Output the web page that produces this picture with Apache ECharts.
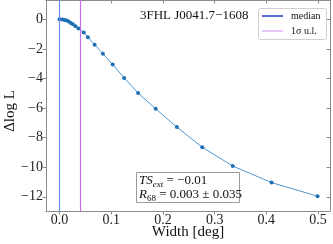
<!DOCTYPE html>
<html>
<head>
<meta charset="utf-8">
<script src="https://cdn.jsdelivr.net/npm/echarts@6/dist/echarts.min.js"></script>
<style>
html,body{margin:0;padding:0;background:#fff;}
#c{width:333px;height:244px;}
</style>
</head>
<body>
<div id="c"></div>
<script>
const widths = [0.0, 0.006, 0.010, 0.014, 0.018, 0.022, 0.026, 0.031, 0.037, 0.047, 0.055, 0.068, 0.084, 0.103, 0.125, 0.152, 0.186, 0.227, 0.276, 0.335, 0.410, 0.499];
const dlogl = [0.0, -0.02, -0.05, -0.09, -0.15, -0.25, -0.34, -0.47, -0.62, -0.89, -1.21, -1.72, -2.33, -3.06, -3.97, -4.98, -6.05, -7.29, -8.65, -9.92, -11.04, -11.96];
const xTicks = [0.0, 0.1, 0.2, 0.3, 0.4, 0.5];
const yTicks = [0, -2, -4, -6, -8, -10, -12];
const medianR68 = 0.003;
const ulR68 = 0.038;
const sourceName = '3FHL J0041.7\u22121608';
const tsExt = '\u22120.01';
const r68Text = '0.003 \u00b1 0.035';

const serif = '"Liberation Serif", "DejaVu Serif", serif';
const axisGray = '#8c8c8c';

const chart = echarts.init(document.getElementById('c'), null, {renderer: 'canvas'});
const xMin = -0.026, xMax = 0.523, yMin = -12.96, yMax = 1.30;

function fmtX(v){ return v.toFixed(1); }
function fmtY(v){ return v < 0 ? '\u2212' + Math.abs(v) : String(v); }

function vline(value, color){
  return {
    type: 'line', xAxisIndex: 0, yAxisIndex: 0, data: [], z: 2,
    color: color,
    markLine: {
      silent: true, symbol: ['none', 'none'], label: {show: false},
      lineStyle: {color: color, width: 1.2, type: 'solid'},
      data: [{xAxis: value}]
    }
  };
}

chart.setOption({
  animation: false,
  grid: {left: 46, right: 3, top: -1, bottom: 33},
  xAxis: [{
    type: 'value', min: xMin, max: xMax, position: 'bottom',
    axisLine: {show: true, onZero: false, lineStyle: {color: axisGray, width: 1}},
    axisTick: {show: true, inside: false, length: 3.5, customValues: xTicks, lineStyle: {color: axisGray}},
    axisLabel: {customValues: xTicks, formatter: fmtX, fontFamily: serif, fontSize: 14, color: '#222', margin: 2},
    splitLine: {show: false}
  }, {
    type: 'value', min: xMin, max: xMax, position: 'top',
    axisLine: {show: true, onZero: false, lineStyle: {color: axisGray, width: 1}},
    axisTick: {show: true, inside: true, length: 3.5, customValues: xTicks, lineStyle: {color: axisGray}},
    axisLabel: {show: false},
    splitLine: {show: false}
  }],
  yAxis: [{
    type: 'value', min: yMin, max: yMax, position: 'left',
    axisLine: {show: true, onZero: false, lineStyle: {color: axisGray, width: 1}},
    axisTick: {show: true, inside: false, length: 3.5, customValues: yTicks, lineStyle: {color: axisGray}},
    axisLabel: {customValues: yTicks, formatter: fmtY, fontFamily: serif, fontSize: 14, color: '#222', margin: 3},
    splitLine: {show: false}
  }, {
    type: 'value', min: yMin, max: yMax, position: 'right',
    axisLine: {show: true, onZero: false, lineStyle: {color: axisGray, width: 1}},
    axisTick: {show: true, inside: true, length: 3.5, customValues: yTicks, lineStyle: {color: axisGray}},
    axisLabel: {show: false},
    splitLine: {show: false}
  }],
  series: [
    vline(medianR68, '#6a8cf2'),
    vline(ulR68, '#c46ff0'),
    {
      type: 'line',
      xAxisIndex: 0, yAxisIndex: 0,
      data: widths.map((w, i) => [w, dlogl[i]]),
      symbol: 'circle', symbolSize: 4,
      itemStyle: {color: '#1f6fb4'},
      lineStyle: {color: '#4f95cf', width: 1},
      z: 3
    }
  ],
  graphic: [
    {type: 'text', left: 140, top: 9, style: {text: sourceName, font: '13px ' + serif, fill: '#111'}, z: 10},
    {type: 'rect', shape: {x: 258.5, y: 8.5, width: 68, height: 31, r: 2}, style: {fill: '#fff', stroke: '#d0d0d0', lineWidth: 1}, z: 10},
    {type: 'line', shape: {x1: 262, y1: 16, x2: 283, y2: 16}, style: {stroke: '#1a3cc4', lineWidth: 1.5}, z: 11},
    {type: 'line', shape: {x1: 262, y1: 31, x2: 283, y2: 31}, style: {stroke: '#e6c6f6', lineWidth: 2}, z: 11},
    {type: 'text', x: 291, y: 16, style: {text: 'median', font: '10px ' + serif, fill: '#111', verticalAlign: 'middle'}, z: 11},
    {type: 'text', x: 291, y: 31, style: {text: '1\u03c3 u.l.', font: '10px ' + serif, fill: '#111', verticalAlign: 'middle'}, z: 11},
    {type: 'rect', shape: {x: 136.5, y: 172.5, width: 103, height: 30}, style: {fill: '#fff', stroke: '#9a9a9a', lineWidth: 1}, z: 10},
    {type: 'text', x: 139, y: 174, z: 11, style: {
      text: '{i|TS}{s|ext}{n| = ' + tsExt + '}\n{i|R}{t|68}{n| = ' + r68Text + '}',
      font: '13px ' + serif, fill: '#111', lineHeight: 14,
      rich: {
        i: {fontStyle: 'italic', fontFamily: serif, fontSize: 13, lineHeight: 14},
        s: {fontStyle: 'italic', fontFamily: serif, fontSize: 9, lineHeight: 14, verticalAlign: 'bottom', padding: [0, 0, -1, 0]},
        t: {fontFamily: serif, fontSize: 9, lineHeight: 14, verticalAlign: 'bottom', padding: [0, 0, -1, 0]},
        n: {fontFamily: serif, fontSize: 13, lineHeight: 14}
      }
    }},
    {type: 'text', x: 10, y: 111, rotation: Math.PI / 2, style: {text: '\u0394log L', font: '15px ' + serif, fill: '#111', align: 'center', verticalAlign: 'middle'}, z: 10},
    {type: 'text', x: 188, y: 232, style: {text: 'Width [deg]', font: '15px ' + serif, fill: '#111', align: 'center', verticalAlign: 'middle'}, z: 10}
  ]
});
</script>
</body>
</html>
